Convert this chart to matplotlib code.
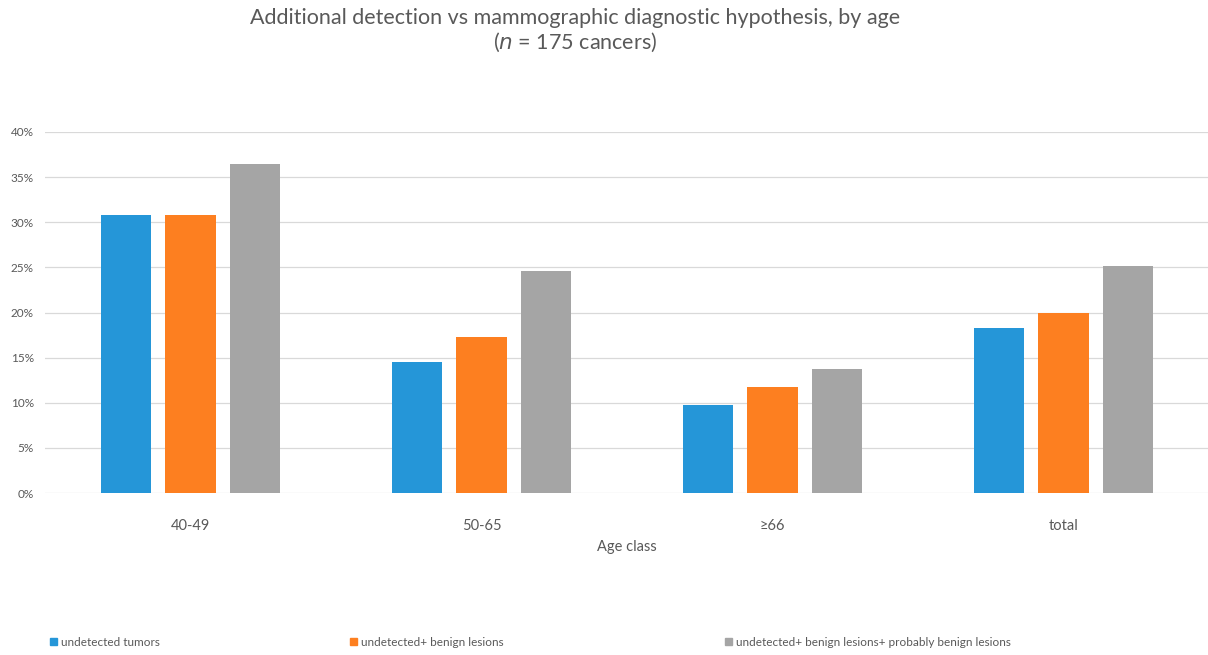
import matplotlib
matplotlib.use("Agg")
import matplotlib.pyplot as plt
import numpy as np
from matplotlib.patches import Patch
from matplotlib.ticker import PercentFormatter

plt.rcParams["font.family"] = ["Lato", "DejaVu Sans"]

categories = ["40-49", "50-65", "\u226566", "total"]
series_names = ["undetected tumors", "undetected+ benign lesions",
                "undetected+ benign lesions+ probably benign lesions"]
undetected = [30.8, 14.5, 9.7, 18.3]
benign = [30.8, 17.3, 11.7, 20.0]
prob_benign = [36.5, 24.6, 13.7, 25.1]
colors = ["#2596d8", "#fd7f20", "#a5a5a5"]

TXT = "#595959"
W, H = 1208, 655
fig = plt.figure(figsize=(W / 100, H / 100), dpi=100)
ax = fig.add_axes([45 / W, 1 - 493 / H, 4 * 291 / W, 361 / H])

x = np.arange(len(categories))
w, step = 0.172, 0.223
for i, vals in enumerate([undetected, benign, prob_benign]):
    ax.bar(x + (i - 1) * step, vals, width=w, color=colors[i], zorder=3)

ax.set_xlim(-0.5, len(categories) - 0.5)
ax.set_ylim(0, 40)
ax.set_yticks(np.arange(0, 41, 5))
ax.yaxis.set_major_formatter(PercentFormatter(decimals=0))
ax.grid(axis="y", color="#d9d9d9", lw=0.9, zorder=0)
for s in ax.spines.values():
    s.set_visible(False)
ax.tick_params(length=0, colors=TXT)
ax.tick_params(axis="y", labelsize=8.5, pad=8)
ax.set_xticks(x)
ax.set_xticklabels(categories, fontsize=10.5)
ax.tick_params(axis="x", pad=19)
ax.set_xlabel("Age class", fontsize=10.5, color=TXT, labelpad=5)

title_x = 575 / W
fig.text(title_x, 1 - 18 / H, "Additional detection vs mammographic diagnostic hypothesis, by age",
         ha="center", va="center", fontsize=15.5, color=TXT)
fig.text(title_x, 1 - 42 / H, "($n$ = 175 cancers)", ha="center", va="center",
         fontsize=15.5, color=TXT)

# legend entries sit at fixed spots along the bottom, like the original
leg_x = [50, 350, 725]
for name, c, lx in zip(series_names, colors, leg_x):
    leg = fig.legend(handles=[Patch(color=c, label=name)], loc="center left",
                     bbox_to_anchor=(lx / W, 1 - 642 / H), frameon=False, fontsize=8.5,
                     handlelength=0.6, handleheight=0.6, handletextpad=0.35,
                     borderpad=0, borderaxespad=0)
    for t in leg.get_texts():
        t.set_color(TXT)

fig.savefig("out.png", dpi=100)
